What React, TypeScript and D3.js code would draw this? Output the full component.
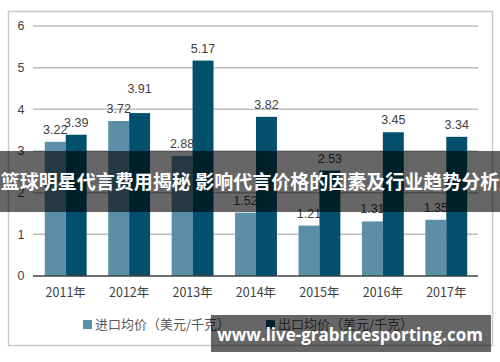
import * as d3 from 'd3'

const years = ['2011年', '2012年', '2013年', '2014年', '2015年', '2016年', '2017年']
const importPrice = [3.22, 3.72, 2.88, 1.52, 1.21, 1.31, 1.35]
const exportPrice = [3.39, 3.91, 5.17, 3.82, 2.53, 3.45, 3.34]
const yTicks = [0, 1, 2, 3, 4, 5, 6]
const seriesNames = ['进口均价（美元/千克）', '出口均价（美元/千克）']
const seriesColors = ['#5b8fa8', '#02506d']

const title = '篮球明星代言费用揭秘 影响代言价格的因素及行业趋势分析'
const site = 'www.live-grabricesporting.com'

// 2012 出口标签在原图里被往上挪了一点，避免和进口标签重叠
const exportLabelNudge: Record<string, number> = { '2012年': -12 }

export default function App() {
  const width = 500
  const height = 362

  const x0 = d3.scaleBand<string>().domain(years).range([34, 478]).paddingInner(0.34).paddingOuter(0.17)
  const x1 = d3.scaleBand<number>().domain([0, 1]).range([0, x0.bandwidth()])
  const y = d3.scaleLinear().domain([0, 6]).range([276, 26])

  const series = [importPrice, exportPrice]
  const font = '"Liberation Sans", Arial, sans-serif'
  const cjk = '"Noto Sans CJK SC", "Liberation Sans", sans-serif'

  return (
    <svg width={width} height={height} style={{ position: 'absolute', left: 0, top: 0, background: '#fff' }}>
      {/* 外框 */}
      <rect x={8.5} y={11.5} width={484} height={334} fill="#fff" stroke="#c9c9c9" strokeWidth={1.5} />

      {/* 网格线 */}
      {yTicks.map(t => (
        <g key={t}>
          {t > 0 && (
            <line x1={33} x2={478} y1={y(t)} y2={y(t)} stroke="#bdbdbd" strokeWidth={1.5} />
          )}
          <text x={21} y={y(t)} dy="0.35em" textAnchor="middle" fontSize={12.5} fill="#404040" fontFamily={font}>
            {t}
          </text>
        </g>
      ))}

      {/* 柱子 */}
      {series.map((vals, si) =>
        vals.map((v, i) => (
          <rect
            key={`${si}-${i}`}
            x={(x0(years[i]) ?? 0) + (x1(si) ?? 0)}
            y={y(v)}
            width={x1.bandwidth()}
            height={y(0) - y(v)}
            fill={seriesColors[si]}
          />
        ))
      )}

      {/* 数值标签 */}
      {series.map((vals, si) =>
        vals.map((v, i) => (
          <text
            key={`l-${si}-${i}`}
            x={(x0(years[i]) ?? 0) + (x1(si) ?? 0) + x1.bandwidth() / 2}
            y={y(v) - 8 + (si === 1 ? exportLabelNudge[years[i]] ?? 0 : 0)}
            textAnchor="middle"
            fontSize={12.5}
            fill="#404040"
            fontFamily={font}
          >
            {v.toFixed(2)}
          </text>
        ))
      )}

      {/* x 轴 */}
      <line x1={33} x2={478} y1={y(0)} y2={y(0)} stroke="#404040" strokeWidth={1.5} />
      {years.map(yr => (
        <text
          key={yr}
          x={(x0(yr) ?? 0) + x0.bandwidth() / 2}
          y={297}
          textAnchor="middle"
          fontSize={12.5}
          fill="#404040"
          fontFamily={cjk}
        >
          {yr}
        </text>
      ))}

      {/* 图例 */}
      {seriesNames.map((name, si) => {
        const lx = si === 0 ? 83 : 266
        return (
          <g key={name}>
            <rect x={lx} y={320} width={9} height={9} fill={seriesColors[si]} />
            <text x={lx + 12} y={329} fontSize={13} fill="#595959" fontFamily={cjk}>
              {name}
            </text>
          </g>
        )
      })}

      {/* 标题横幅 */}
      <rect x={0} y={151} width={width} height={61} fill="rgba(0,0,0,0.6)" />
      <text
        x={width / 2}
        y={182}
        dy="0.35em"
        textAnchor="middle"
        fontSize={19}
        fontWeight="bold"
        fill="#fff"
        fontFamily={cjk}
      >
        {title}
      </text>

      {/* 网址水印 */}
      <rect x={211} y={315} width={280} height={37} fill="rgba(0,0,0,0.6)" />
      <text
        x={350}
        y={335}
        dy="0.35em"
        textAnchor="middle"
        fontSize={17}
        fontWeight="bold"
        fill="#fff"
        fontFamily='"Open Sans", "DejaVu Sans", sans-serif'
      >
        {site}
      </text>
    </svg>
  )
}
